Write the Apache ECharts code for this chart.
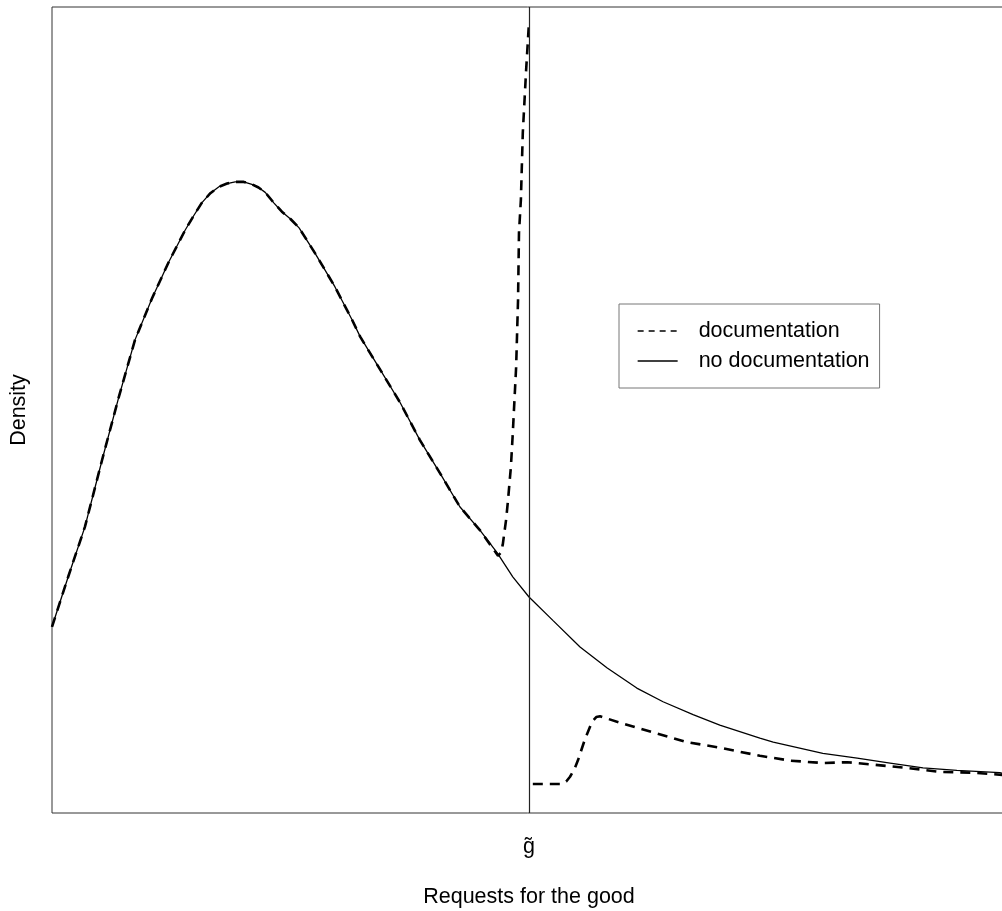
<!DOCTYPE html>
<html>
<head>
<meta charset="utf-8">
<script src="https://cdn.jsdelivr.net/npm/echarts@6/dist/echarts.min.js"></script>
<style>
html,body{margin:0;padding:0;background:#fff;}
#chart{width:1002px;height:911px;}
</style>
</head>
<body>
<div id="chart"></div>
<script>
// x in units of g-tilde (g~ = 1), y = density (arbitrary units)
var gTilde = 1;
var tickLabel = 'g\u0303';
var seriesNames = ['documentation', 'no documentation'];

var noDocX = [0, 0.035, 0.069, 0.105, 0.140, 0.174, 0.210, 0.245, 0.279, 0.297, 0.314, 0.332, 0.350, 0.367, 0.384, 0.402, 0.419, 0.433, 0.447, 0.465, 0.482, 0.500, 0.518, 0.551, 0.593, 0.629, 0.646, 0.688, 0.730, 0.771, 0.813, 0.855, 0.897, 0.933, 0.966, 1.000, 1.050, 1.107, 1.164, 1.226, 1.281, 1.344, 1.400, 1.484, 1.512, 1.616, 1.688, 1.757, 1.826, 1.897, 1.987, 2.000];
var noDocY = [0.231, 0.295, 0.355, 0.438, 0.516, 0.587, 0.639, 0.684, 0.723, 0.741, 0.757, 0.769, 0.777, 0.781, 0.783, 0.783, 0.780, 0.776, 0.770, 0.757, 0.746, 0.737, 0.726, 0.695, 0.653, 0.612, 0.591, 0.550, 0.509, 0.463, 0.422, 0.380, 0.351, 0.323, 0.293, 0.268, 0.239, 0.206, 0.180, 0.155, 0.138, 0.122, 0.109, 0.093, 0.088, 0.074, 0.068, 0.062, 0.056, 0.053, 0.050, 0.048];

// documentation: below g~ (follows the common curve, then spikes up to g~)
var docLowX = [0, 0.035, 0.069, 0.105, 0.140, 0.174, 0.210, 0.245, 0.279, 0.297, 0.314, 0.332, 0.350, 0.367, 0.384, 0.402, 0.419, 0.433, 0.447, 0.465, 0.482, 0.500, 0.518, 0.551, 0.593, 0.629, 0.646, 0.688, 0.730, 0.771, 0.813, 0.855, 0.897, 0.927, 0.935, 0.941, 0.945, 0.952, 0.956, 0.962, 0.966, 0.973, 0.977, 0.979, 0.983, 0.987, 0.994, 1.000];
var docLowY = [0.231, 0.295, 0.355, 0.438, 0.516, 0.587, 0.639, 0.684, 0.723, 0.741, 0.757, 0.769, 0.777, 0.781, 0.783, 0.783, 0.780, 0.776, 0.770, 0.757, 0.746, 0.737, 0.726, 0.695, 0.653, 0.612, 0.591, 0.550, 0.509, 0.463, 0.422, 0.380, 0.351, 0.326, 0.319, 0.323, 0.333, 0.364, 0.388, 0.429, 0.471, 0.553, 0.636, 0.720, 0.761, 0.844, 0.922, 0.981];
// documentation: above g~
var docHighX = [1.008, 1.069, 1.078, 1.086, 1.095, 1.103, 1.117, 1.132, 1.141, 1.149, 1.191, 1.260, 1.331, 1.400, 1.484, 1.547, 1.616, 1.667, 1.721, 1.792, 1.862, 1.931, 2.000];
var docHighY = [0.036, 0.036, 0.039, 0.045, 0.054, 0.066, 0.091, 0.113, 0.119, 0.120, 0.112, 0.100, 0.088, 0.081, 0.071, 0.065, 0.062, 0.063, 0.060, 0.056, 0.051, 0.050, 0.047];

function zip(xs, ys){ return xs.map(function(x,i){ return [x, ys[i]]; }); }
var docData = zip(docLowX, docLowY).concat([[1.004, '-']]).concat(zip(docHighX, docHighY));

var FONT = '"Liberation Sans", Arial, Helvetica, sans-serif';
var chart = echarts.init(document.getElementById('chart'), null, {renderer:'canvas'});
chart.setOption({
  animation: false,
  backgroundColor: '#fff',
  grid: {left: 52, top: 7, width: 954, height: 806, show: true, borderColor: '#333', borderWidth: 1, backgroundColor: 'transparent', containLabel: false, outerBoundsMode: 'none'},
  xAxis: {
    type: 'value', min: 0, max: 2, interval: 1,
    axisLine: {show: false}, axisTick: {show: false}, splitLine: {show: false},
    axisLabel: {
      margin: 23, fontSize: 21.5, color: '#000', fontFamily: FONT, showMinLabel: false, showMaxLabel: false,
      formatter: function(v){ return v === gTilde ? tickLabel : ''; }
    },
    name: 'Requests for the good', nameLocation: 'middle', nameGap: 73,
    nameTextStyle: {fontSize: 21.5, color: '#000', fontFamily: FONT}
  },
  yAxis: {
    type: 'value', min: 0, max: 1,
    axisLine: {show: false}, axisTick: {show: false}, splitLine: {show: false}, axisLabel: {show: false},
    name: 'Density', nameLocation: 'middle', nameGap: 22, nameRotate: 90,
    nameTextStyle: {fontSize: 21.5, color: '#000', fontFamily: FONT}
  },
  legend: {
    left: 619, top: 304, orient: 'vertical',
    padding: [16, 10, 16, 18],
    borderColor: '#777', borderWidth: 1,
    itemWidth: 40, itemHeight: 14, itemGap: 8,
    itemStyle: {opacity: 0, color: 'rgba(0,0,0,0)', borderWidth: 0},
    textStyle: {fontSize: 21.5, fontFamily: FONT, color: '#000', padding: [0, 0, 0, 16], lineHeight: 22},
    data: [
      {name: seriesNames[0], itemStyle: {opacity: 0, color: 'rgba(0,0,0,0)', borderWidth: 0}, lineStyle: {width: 1.3, type: [6, 5], color: '#000'}},
      {name: seriesNames[1], itemStyle: {opacity: 0, color: 'rgba(0,0,0,0)', borderWidth: 0}, lineStyle: {width: 1.3, type: 'solid', color: '#000'}}
    ]
  },
  series: [
    {
      name: seriesNames[1], type: 'line', data: zip(noDocX, noDocY),
      symbol: 'none', smooth: false,
      lineStyle: {color: '#000', width: 1.3, type: 'solid'},
      itemStyle: {color: '#000'},
      markLine: {
        silent: true, symbol: ['none', 'none'], label: {show: false},
        lineStyle: {color: '#222', width: 1.2, type: 'solid'},
        data: [{xAxis: gTilde}]
      },
      z: 3
    },
    {
      name: seriesNames[0], type: 'line', data: docData, connectNulls: false,
      symbol: 'none', smooth: false,
      lineStyle: {color: '#000', width: 2.6, type: [10, 7]},
      itemStyle: {color: '#000'},
      z: 4
    }
  ]
});
</script>
</body>
</html>
